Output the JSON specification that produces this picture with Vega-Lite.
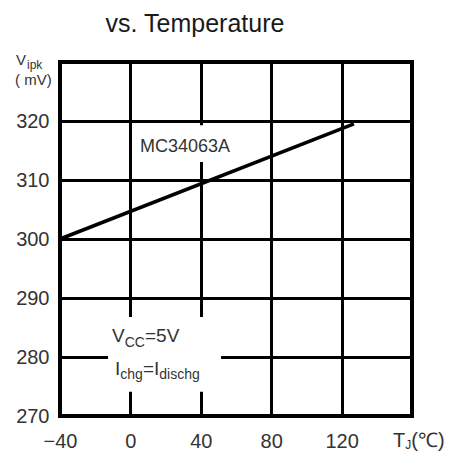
{
  "$schema": "https://vega.github.io/schema/vega-lite/v6.json",
  "width": 352,
  "height": 354,
  "autosize": {"type": "none"},
  "padding": {"left": 60, "top": 62, "right": 42, "bottom": 37},
  "background": "white",
  "title": {"text": "vs. Temperature", "anchor": "middle", "dx": -41, "fontSize": 25, "font": "Liberation Sans", "fontWeight": "normal", "color": "#1a1a1a", "offset": 15},
  "config": {"view": {"stroke": "black", "strokeWidth": 4}},
  "datasets": {
    "curve": [{"tj": -40, "vipk": 300}, {"tj": 127, "vipk": 319.5}],
    "boxes": [
      {"x1": 1.5, "x2": 65, "y1": 313.05, "y2": 319.3},
      {"x1": -12.7, "x2": 51.5, "y1": 274.1, "y2": 286.8}
    ],
    "texts": [
      {"t": "MC34063A", "x": 5.45, "y": 314.75, "kind": "model"},
      {"t": "V", "x": -10.45, "y": 282.5, "kind": "note"},
      {"t": "CC", "x": -3.24, "y": 281.7, "kind": "sub"},
      {"t": "=5V", "x": 8.3, "y": 282.5, "kind": "note"},
      {"t": "I", "x": -8.75, "y": 276.95, "kind": "note"},
      {"t": "chg", "x": -5.74, "y": 276.3, "kind": "sub"},
      {"t": "=I", "x": 7.1, "y": 276.95, "kind": "note"},
      {"t": "dischg", "x": 16.42, "y": 276.3, "kind": "sub"},
      {"t": "V", "x": -65, "y": 329.5, "kind": "unit"},
      {"t": "ipk", "x": -58.75, "y": 328.8, "kind": "subsmall"},
      {"t": "( mV)", "x": -65.5, "y": 326.1, "kind": "unit"},
      {"t": "T", "x": 149.2, "y": 264.7, "kind": "axis"},
      {"t": "J", "x": 156.2, "y": 264.4, "kind": "subsmall"},
      {"t": "(℃)", "x": 159.6, "y": 264.7, "kind": "axis"}
    ]
  },
  "layer": [
    {
      "data": {"name": "boxes"},
      "mark": {"type": "rect", "fill": "white"},
      "encoding": {
        "x": {"field": "x1", "type": "quantitative",
          "scale": {"domain": [-40, 160], "nice": false, "zero": false},
          "axis": {"values": [-40, -20, 0, 20, 40, 60, 80, 100, 120, 140, 160],
            "labelExpr": "datum.value % 40 == 0 && datum.value < 160 ? datum.label : ''",
            "grid": true, "gridColor": "black", "gridWidth": 3, "gridOpacity": 1,
            "ticks": false, "domain": false, "title": null,
            "labelFontSize": 20, "labelFont": "Liberation Sans", "labelColor": "#333",
            "labelPadding": 15, "labelFlush": false, "labelOverlap": false}},
        "x2": {"field": "x2"},
        "y": {"field": "y1", "type": "quantitative",
          "scale": {"domain": [270, 330], "nice": false, "zero": false},
          "axis": {"values": [270, 280, 290, 300, 310, 320, 330],
            "labelExpr": "datum.value < 330 ? datum.label : ''",
            "grid": true, "gridColor": "black", "gridWidth": 3, "gridOpacity": 1,
            "ticks": false, "domain": false, "title": null,
            "labelFontSize": 20, "labelFont": "Liberation Sans", "labelColor": "#333",
            "labelPadding": 11, "labelOverlap": false, "labelFlush": false}},
        "y2": {"field": "y2"}
      }
    },
    {
      "data": {"name": "curve"},
      "mark": {"type": "line", "color": "black", "strokeWidth": 3.5},
      "encoding": {
        "x": {"field": "tj", "type": "quantitative"},
        "y": {"field": "vipk", "type": "quantitative"}
      }
    },
    {
      "data": {"name": "texts"},
      "transform": [{"filter": "datum.kind == 'model'"}],
      "mark": {"type": "text", "align": "left", "baseline": "alphabetic", "font": "Liberation Sans", "color": "#333", "fontSize": 18},
      "encoding": {
        "x": {"field": "x", "type": "quantitative"},
        "y": {"field": "y", "type": "quantitative"},
        "text": {"field": "t", "type": "nominal"}
      }
    },
    {
      "data": {"name": "texts"},
      "transform": [{"filter": "datum.kind == 'note'"}],
      "mark": {"type": "text", "align": "left", "baseline": "alphabetic", "font": "Liberation Sans", "color": "#333", "fontSize": 19},
      "encoding": {
        "x": {"field": "x", "type": "quantitative"},
        "y": {"field": "y", "type": "quantitative"},
        "text": {"field": "t", "type": "nominal"}
      }
    },
    {
      "data": {"name": "texts"},
      "transform": [{"filter": "datum.kind == 'sub'"}],
      "mark": {"type": "text", "align": "left", "baseline": "alphabetic", "font": "Liberation Sans", "color": "#333", "fontSize": 14},
      "encoding": {
        "x": {"field": "x", "type": "quantitative"},
        "y": {"field": "y", "type": "quantitative"},
        "text": {"field": "t", "type": "nominal"}
      }
    },
    {
      "data": {"name": "texts"},
      "transform": [{"filter": "datum.kind == 'subsmall'"}],
      "mark": {"type": "text", "align": "left", "baseline": "alphabetic", "font": "Liberation Sans", "color": "#333", "fontSize": 12},
      "encoding": {
        "x": {"field": "x", "type": "quantitative"},
        "y": {"field": "y", "type": "quantitative"},
        "text": {"field": "t", "type": "nominal"}
      }
    },
    {
      "data": {"name": "texts"},
      "transform": [{"filter": "datum.kind == 'unit'"}],
      "mark": {"type": "text", "align": "left", "baseline": "alphabetic", "font": "Liberation Sans", "color": "#333", "fontSize": 15},
      "encoding": {
        "x": {"field": "x", "type": "quantitative"},
        "y": {"field": "y", "type": "quantitative"},
        "text": {"field": "t", "type": "nominal"}
      }
    },
    {
      "data": {"name": "texts"},
      "transform": [{"filter": "datum.kind == 'axis'"}],
      "mark": {"type": "text", "align": "left", "baseline": "alphabetic", "font": "Liberation Sans", "color": "#333", "fontSize": 20},
      "encoding": {
        "x": {"field": "x", "type": "quantitative"},
        "y": {"field": "y", "type": "quantitative"},
        "text": {"field": "t", "type": "nominal"}
      }
    }
  ]
}
